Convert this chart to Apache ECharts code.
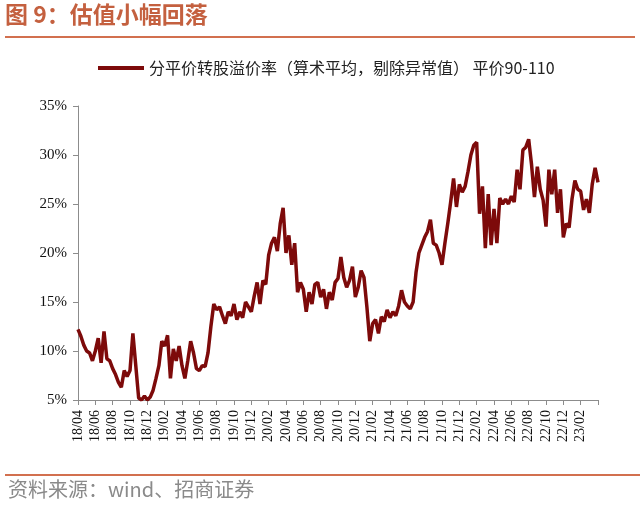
<!DOCTYPE html>
<html><head><meta charset="utf-8">
<script src="https://cdn.jsdelivr.net/npm/echarts@6/dist/echarts.min.js"></script>
<style>html,body{margin:0;padding:0;background:#fff}#c{width:640px;height:510px}</style>
</head><body><div id="c"></div>
<script>
const titleText = '图 9：估值小幅回落';
const sourceText = '资料来源：wind、招商证券';
const seriesName = '分平价转股溢价率（算术平均，剔除异常值） 平价90-110';
// first sample: 2018-04, three samples per month
const startYear = 2018, startMonth = 4, samplesPerMonth = 3;
const v2018 = [12.2,11.5,10.6,10.0,9.8,9.0,10.0,11.3,8.8,12.0,9.2,9.0,8.2,7.6,6.8,6.3,8.0,7.4,8.0,11.8,8.5,5.2,5.0,5.4,5.0,5.3,6.0];
const v2019 = [7.2,8.5,11.0,10.5,11.6,7.2,10.2,9.0,10.5,8.5,7.2,9.0,11.0,9.8,8.2,8.0,8.5,8.4,9.8,12.5,14.8,14.2,14.5,13.6,12.8,14.0,13.6,14.8,13.2,14.0,13.4,15.0,14.5,14.0,15.6,17.0];
const v2020 = [14.8,17.2,16.8,19.8,21.0,21.6,20.2,23.0,24.6,20.0,21.8,18.8,21.0,16.0,17.0,16.3,14.0,16.0,14.8,16.8,17.0,15.5,16.3,14.3,16.0,15.2,17.0,17.4,19.6,17.5,16.5,17.2,18.6,15.5,16.5,18.2];
const v2021 = [17.5,14.5,11.0,12.8,13.2,11.8,13.5,13.0,14.2,13.4,14.0,13.6,14.6,16.2,15.0,14.6,14.3,15.0,18.0,20.0,20.8,21.6,22.2,23.4,21.0,20.8,20.0,18.8,21.0,23.0,25.2,27.6,24.7,27.0,26.2,26.8];
const v2022 = [28.3,30.0,31.0,31.3,24.0,26.8,20.5,26.0,20.8,24.5,21.0,25.6,25.0,25.5,25.0,25.8,25.2,28.5,26.5,30.5,30.8,31.6,29.0,25.7,28.8,26.5,25.4,22.7,28.5,26.0,28.5,24.1,26.5,21.6,23.0,22.6];
const v2023 = [25.5,27.4,26.5,26.3,24.4,25.5,24.1,27.0,28.7,27.2];
const yMin = 5, yMax = 35, yStep = 5;
const xMonths = 60, xStep = 2, lastLabelMonth = 58;

const values = [].concat(v2018, v2019, v2020, v2021, v2022, v2023);
const data = values.map((v, i) => [i / samplesPerMonth, v]);

function monthLabel(m) {
  if (m > lastLabelMonth) return '';
  const t = startMonth - 1 + m;
  const y = startYear + Math.floor(t / 12);
  const mo = (t % 12) + 1;
  return String(y % 100).padStart(2, '0') + '/' + String(mo).padStart(2, '0');
}

const chart = echarts.init(document.getElementById('c'), null, {renderer: 'canvas'});
const titleColor = '#C4603F';
chart.setOption({
  animation: false,
  backgroundColor: '#fff',
  grid: {left: 78, right: 42, top: 106, bottom: 110, containLabel: false},
  legend: {
    data: [seriesName], left: 93, top: 55, icon: 'rect', itemWidth: 46, itemHeight: 4, itemGap: 4,
    textStyle: {fontFamily: 'Noto Sans CJK SC', fontSize: 16, color: '#222'}
  },
  xAxis: {
    type: 'value', min: 0, max: xMonths, interval: xStep,
    axisLine: {onZero: false, lineStyle: {color: '#8c8c8c', width: 1}},
    axisTick: {show: true, length: 5, lineStyle: {color: '#8c8c8c'}},
    splitLine: {show: false},
    axisLabel: {rotate: 90, margin: 10, fontFamily: 'Liberation Serif', fontSize: 14, color: '#111', formatter: monthLabel, showMaxLabel: true}
  },
  yAxis: {
    type: 'value', min: yMin, max: yMax, interval: yStep,
    axisLine: {show: true, lineStyle: {color: '#8c8c8c', width: 1}},
    axisTick: {show: true, length: 5, lineStyle: {color: '#8c8c8c'}},
    splitLine: {show: false},
    axisLabel: {margin: 11, fontFamily: 'Liberation Serif', fontSize: 15, color: '#111', formatter: v => v + '%'}
  },
  series: [{
    name: seriesName, type: 'line', data: data, showSymbol: false, symbol: 'none',
    lineStyle: {color: '#7D0A0A', width: 3.5}, itemStyle: {color: '#7D0A0A'}, clip: true
  }],
  graphic: [
    {type: 'text', left: 5, top: 3, style: {text: titleText, fontFamily: 'Noto Sans CJK SC', fontSize: 23, fontWeight: 'bold', fill: titleColor}},
    {type: 'rect', shape: {x: 5, y: 36, width: 630, height: 2}, style: {fill: '#D2704F'}},
    {type: 'rect', shape: {x: 5, y: 474, width: 635, height: 2}, style: {fill: '#D2704F'}},
    {type: 'text', left: 8, top: 479, style: {text: sourceText, fontFamily: 'Noto Sans CJK SC', fontSize: 20, fill: '#8a8a8a'}}
  ]
});
</script></body></html>
